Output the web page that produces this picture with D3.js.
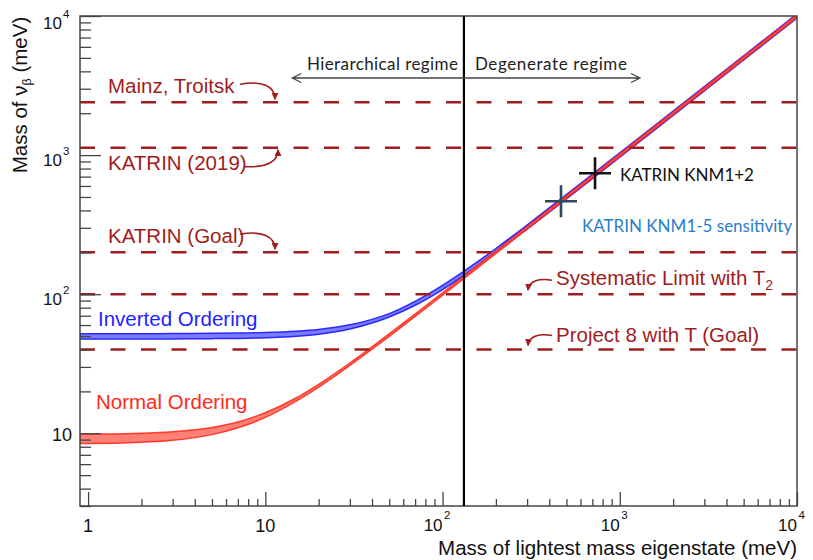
<!DOCTYPE html>
<html><head><meta charset="utf-8">
<script src="https://cdn.jsdelivr.net/npm/d3@7"></script>
<style>body{margin:0;background:#fff}</style>
</head><body><svg id="c" width="813" height="560"></svg>
<script>
// ---------------- data ----------------
const lightestMass = [0.9,1,2,3,5,7,10,15,20,30,40,50,70,100,150,200,300,500,1000,2000,5000,10000];
const normalLow  = [8.44,8.44,8.62,8.90,9.78,10.95,13.0,17.1,21.5,30.8,40.2,49.8,69.2,98.4,147.3,196.2,294.1,490,980,1960,4900,9800];
const normalHigh = [9.86,9.86,10.0,10.25,11.0,12.05,14.05,18.0,22.5,32.0,41.8,51.8,72.0,102.4,153.3,204.2,306.1,510,1020,2040,5100,10200];
const invertedLow  = [47.6,47.6,47.6,47.7,47.9,48.1,48.6,49.9,51.6,56.2,62.0,68.6,83.2,108.0,152.6,199.0,294.0,485,966,1931,4825,9650];
const invertedHigh = [52.0,52.0,52.0,52.1,52.3,52.5,53.0,54.2,55.8,60.2,65.9,72.5,88.8,115.6,163.6,213.0,314.0,520,1036,2071,5175,10350];
const limitValues = [2400, 1130, 200, 100, 40];
const limitLabels = ["Mainz, Troitsk","KATRIN (2019)","KATRIN (Goal)","Systematic Limit with T","Project 8 with T (Goal)"];
const limitSubscripts = ["","","","2",""];
const regimeBoundary = 132;
const regimeArrowEnds = [14.2, 1300];
const crossNames = ["KATRIN KNM1+2","KATRIN KNM1-5 sensitivity"];
const crossX = [725, 466];
const crossY = [740, 466];
const xMajorTicks = [1,10,100,1000,10000];
const xMajorExp = [null,null,2,3,4];
const yMajorTicks = [10,100,1000,10000];
const yMajorExp = [null,2,3,4];

// ---------------- chart ----------------
const svg = d3.select("#c");
const L=80, R=797, T=16, B=506;
const x = d3.scaleLog().domain([0.9,10000]).range([L,R]);
const y = d3.scaleLog().domain([3,10000]).range([B,T]);
const FONT = "'Liberation Sans', Arial, Helvetica, sans-serif";
const CAL = "Lato, 'Open Sans', sans-serif";
const LIM = "#a11c1c";

const defs = svg.append("defs");
defs.append("clipPath").attr("id","pc")
  .append("rect").attr("x",L).attr("y",T).attr("width",R-L).attr("height",B-T);
defs.append("marker").attr("id","ah").attr("viewBox","0 0 10 10").attr("refX",9).attr("refY",5)
  .attr("markerWidth",7).attr("markerHeight",7).attr("markerUnits","userSpaceOnUse").attr("orient","auto")
  .append("path").attr("d","M0,0 L10,5 L0,10 z").attr("fill",LIM);

const band = (lo,hi) => lightestMass.map((m,i)=>({m, lo:lo[i], hi:hi[i]}));
const area = d3.area().x(d=>x(d.m)).y0(d=>y(d.lo)).y1(d=>y(d.hi)).curve(d3.curveMonotoneX);

const plot = svg.append("g").attr("clip-path","url(#pc)");
plot.append("path").datum(band(invertedLow,invertedHigh)).attr("d",area)
  .attr("fill","#7b7bff").attr("stroke","#2a2aff").attr("stroke-width",1.5).attr("stroke-linejoin","round");
plot.append("path").datum(band(normalLow,normalHigh)).attr("d",area)
  .attr("fill","#ff6a5c").attr("fill-opacity",0.85).attr("stroke","#ff2b1c").attr("stroke-opacity",0.9)
  .attr("stroke-width",1.5).attr("stroke-linejoin","round");

// dashed limits
plot.selectAll("line.lim").data(limitValues).join("line").attr("class","lim")
  .attr("x1",L).attr("x2",R).attr("y1",d=>y(d)).attr("y2",d=>y(d))
  .attr("stroke",LIM).attr("stroke-width",2.6).attr("stroke-dasharray","15,15.5");

// axes
const xMinor = x.ticks().filter(v=>!xMajorTicks.includes(v) && v>=1);
const yMinor = y.ticks().filter(v=>!yMajorTicks.includes(v));
const axStyle = g => { g.select(".domain").remove(); g.selectAll("line").attr("stroke","#444").attr("stroke-width",1.3); g.selectAll("text").remove(); };
svg.append("g").attr("transform",`translate(0,${B})`).call(d3.axisBottom(x).tickValues(xMinor).tickSize(-7).tickFormat("")).call(axStyle);
svg.append("g").attr("transform",`translate(0,${B})`).call(d3.axisBottom(x).tickValues(xMajorTicks).tickSize(-14).tickFormat("")).call(axStyle);
svg.append("g").attr("transform",`translate(${L},0)`).call(d3.axisLeft(y).tickValues(yMinor).tickSize(-11).tickFormat("")).call(axStyle);
svg.append("g").attr("transform",`translate(${L},0)`).call(d3.axisLeft(y).tickValues(yMajorTicks).tickSize(-21).tickFormat("")).call(axStyle);
svg.append("rect").attr("x",L).attr("y",T).attr("width",R-L).attr("height",B-T)
  .attr("fill","none").attr("stroke","#444").attr("stroke-width",1.5);

// tick labels
xMajorTicks.forEach((v,i)=>{
  const e = xMajorExp[i];
  if(e===null){
    svg.append("text").attr("x",x(v)).attr("y",532).attr("text-anchor","middle")
      .attr("font-family",FONT).attr("font-size",18).attr("fill","#111").text(String(v));
  } else {
    svg.append("text").attr("x",x(v)).attr("y",531).attr("text-anchor","end")
      .attr("font-family",FONT).attr("font-size",17).attr("fill","#111").text("10");
    svg.append("text").attr("x",x(v)+1.5).attr("y",519).attr("font-family",FONT).attr("font-size",11.5).attr("fill","#111").text(String(e));
  }
});
yMajorTicks.forEach((v,i)=>{
  const e = yMajorExp[i];
  if(e===null){
    svg.append("text").attr("x",72).attr("y",y(v)+8).attr("text-anchor","end")
      .attr("font-family",FONT).attr("font-size",18).attr("fill","#111").text("10");
  } else {
    const by = y(v) + (v===10000 ? 13 : 11);
    svg.append("text").attr("x",62).attr("y",by).attr("text-anchor","end")
      .attr("font-family",FONT).attr("font-size",17).attr("fill","#111").text("10");
    svg.append("text").attr("x",63).attr("y",by-11).attr("font-family",FONT).attr("font-size",11.5).attr("fill","#111").text(String(e));
  }
});

// axis titles
svg.append("text").attr("x",R).attr("y",555).attr("text-anchor","end").attr("font-family",FONT)
  .attr("font-size",20.5).attr("fill","#111").text("Mass of lightest mass eigenstate (meV)");
const yl = svg.append("text").attr("transform","translate(27,95) rotate(-90)").attr("text-anchor","middle")
  .attr("font-family",FONT).attr("font-size",20.5).attr("fill","#111");
yl.append("tspan").text("Mass of \u03bd");
yl.append("tspan").attr("font-size",12.5).attr("dy",4).text("\u03b2");
yl.append("tspan").attr("dy",-4).text("  (meV)");

// limit labels
const labelPos = [[108,-9],[108,22],[108,-9],[556,-9],[556,-8]];
limitLabels.forEach((s,i)=>{
  const t = svg.append("text").attr("x",labelPos[i][0]).attr("y",y(limitValues[i])+labelPos[i][1])
    .attr("font-family",FONT).attr("font-size",20.5).attr("fill",LIM).text(s);
  if(limitSubscripts[i]) t.append("tspan").attr("font-size",14).attr("dy",5).text(limitSubscripts[i]);
});
// curved annotation arrows
const arrowPaths = limitValues.map((v,i)=>{
  const yv = y(v);
  if(i===0||i===2) return `M240,${yv-18} C262,${yv-22} 275,${yv-16} 275,${yv-3}`;
  if(i===1) return `M245,${yv+19} C267,${yv+20} 278,${yv+14} 278,${yv+2}`;
  return `M552,${yv-14} C540,${yv-16} 529,${yv-14} 528,${yv-4}`;
});
svg.selectAll("path.ann").data(arrowPaths).join("path").attr("class","ann").attr("d",d=>d)
  .attr("fill","none").attr("stroke",LIM).attr("stroke-width",1.6).attr("marker-end","url(#ah)");

// ordering labels
svg.append("text").attr("x",98).attr("y",326).attr("font-family",FONT).attr("font-size",20.5).attr("fill","#2323ff").text("Inverted Ordering");
svg.append("text").attr("x",96).attr("y",409).attr("font-family",FONT).attr("font-size",20.5).attr("fill","#ff2a1a").text("Normal Ordering");

// regime boundary & arrows
svg.append("line").attr("x1",x(regimeBoundary)).attr("x2",x(regimeBoundary)).attr("y1",T).attr("y2",B)
  .attr("stroke","#000").attr("stroke-width",2.2);
const ay = 78, ax0 = x(regimeArrowEnds[0]), ax1 = x(regimeArrowEnds[1]);
svg.append("path").attr("d",`M${ax0},${ay} H${ax1} M${ax0+9},${ay-4.5} L${ax0},${ay} L${ax0+9},${ay+4.5} M${ax1-9},${ay-4.5} L${ax1},${ay} L${ax1-9},${ay+4.5}`)
  .attr("fill","none").attr("stroke","#444").attr("stroke-width",1.3);
svg.append("text").attr("x",x(regimeBoundary)-157).attr("y",70).attr("font-family",CAL)
  .attr("font-size",17).attr("textLength",151).attr("lengthAdjust","spacing").attr("fill","#222").text("Hierarchical regime");
svg.append("text").attr("x",x(regimeBoundary)+11).attr("y",70).attr("font-family",CAL)
  .attr("font-size",17).attr("textLength",152).attr("lengthAdjust","spacing").attr("fill","#222").text("Degenerate regime");

// crosses
const crossCol = ["#111","#2d4a5c"];
crossX.forEach((cx,i)=>{
  const px = x(cx), py = y(crossY[i]);
  svg.append("path").attr("d",`M${px-16},${py} H${px+16} M${px},${py-16} V${py+16}`)
    .attr("stroke",crossCol[i]).attr("stroke-width",2.6).attr("fill","none");
});
svg.append("text").attr("x",620).attr("y",181).attr("font-family",CAL).attr("font-size",17).attr("fill","#111").text(crossNames[0]);
svg.append("text").attr("x",582).attr("y",232).attr("font-family",CAL).attr("font-size",17).attr("fill","#2a7ec8").text(crossNames[1]);
</script></body></html>
